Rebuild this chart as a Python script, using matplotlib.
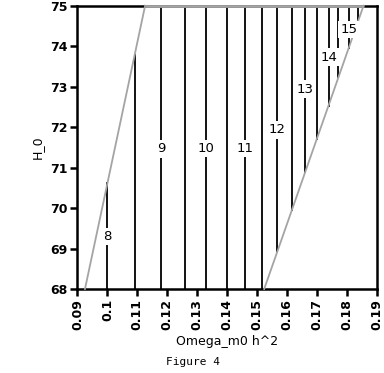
import numpy as np
import matplotlib
matplotlib.use("Agg")
import matplotlib.pyplot as plt

plt.rcParams['font.family'] = ['DejaVu Sans']

# contour levels (every 0.5) and where they sit on the x axis
levels = [8, 8.5, 9, 9.5, 10, 10.5, 11, 11.5, 12, 12.5, 13, 13.5, 14, 14.5, 15, 15.5]
level_x = [0.100, 0.1091, 0.118, 0.126, 0.1329, 0.1399, 0.146, 0.1516,
           0.1568, 0.1616, 0.1661, 0.170, 0.1739, 0.1772, 0.1806, 0.1839]
# y position of the inline labels (integer levels only)
label_y = {8: 69.3, 9: 71.46, 10: 71.48, 11: 71.48, 12: 71.93, 13: 72.94, 14: 73.73, 15: 74.42}

# allowed region boundaries (straight lines in Omega_m0 h^2 / H_0)
left_edge = [(0.0925, 68.0), (0.1126, 75.0)]
right_edge = [(0.1524, 68.0), (0.1856, 75.0)]

xticks = [0.09, 0.10, 0.11, 0.12, 0.13, 0.14, 0.15, 0.16, 0.17, 0.18, 0.19]
xtick_labels = ['0.09', '0.1', '0.11', '0.12', '0.13', '0.14', '0.15', '0.16', '0.17', '0.18', '0.19']
yticks = [68, 69, 70, 71, 72, 73, 74, 75]

ymin, ymax = 68, 75


def edge_y(edge, x):
    (x0, y0), (x1, y1) = edge
    return y0 + (x - x0) * (y1 - y0) / (x1 - x0)


fig = plt.figure(figsize=(3.84, 3.73), dpi=100)
ax = fig.add_axes([0.2018, 0.2252, 0.7792, 0.7595])

for lev, x in zip(levels, level_x):
    lo = max(ymin, edge_y(right_edge, x)) if x > right_edge[0][0] else ymin
    hi = min(ymax, edge_y(left_edge, x)) if x < left_edge[1][0] else ymax
    ax.plot([x, x], [lo, hi], color='black', lw=1.3, zorder=2)
    if lev in label_y:
        ax.text(x, label_y[lev], str(lev), ha='center', va='center', fontsize=9.5,
                bbox=dict(facecolor='white', edgecolor='none', pad=1.5), zorder=4)

# gray boundary of the allowed region (top part sits on the spine)
gray = '#a4a4a4'
ax.plot([left_edge[0][0], left_edge[1][0]], [left_edge[0][1], left_edge[1][1]],
        color=gray, lw=1.3, zorder=3, clip_on=False)
ax.plot([right_edge[0][0], right_edge[1][0]], [right_edge[0][1], right_edge[1][1]],
        color=gray, lw=1.3, zorder=3, clip_on=False)
ax.plot([left_edge[1][0], right_edge[1][0]], [ymax, ymax],
        color=gray, lw=2.0, zorder=3, clip_on=False, solid_capstyle='butt')

ax.set_xlim(0.09, 0.19)
ax.set_ylim(ymin, ymax)
ax.set_xticks(xticks)
ax.set_xticklabels(xtick_labels, rotation=90, fontweight='bold')
ax.set_yticks(yticks)
ax.set_yticklabels([str(v) for v in yticks], fontweight='bold')
ax.tick_params(direction='out', length=5, width=1.8, labelsize=9, pad=2)
for s in ax.spines.values():
    s.set_linewidth(1.8)

ax.set_xlabel('Omega_m0 h^2', fontsize=9, labelpad=4)
ax.set_ylabel('H_0', fontsize=9, labelpad=5)

fig.text(0.503, 0.03, 'Figure 4', ha='center', va='center', fontsize=8,
         family='DejaVu Sans Mono')

fig.savefig('out.png', dpi=100)
